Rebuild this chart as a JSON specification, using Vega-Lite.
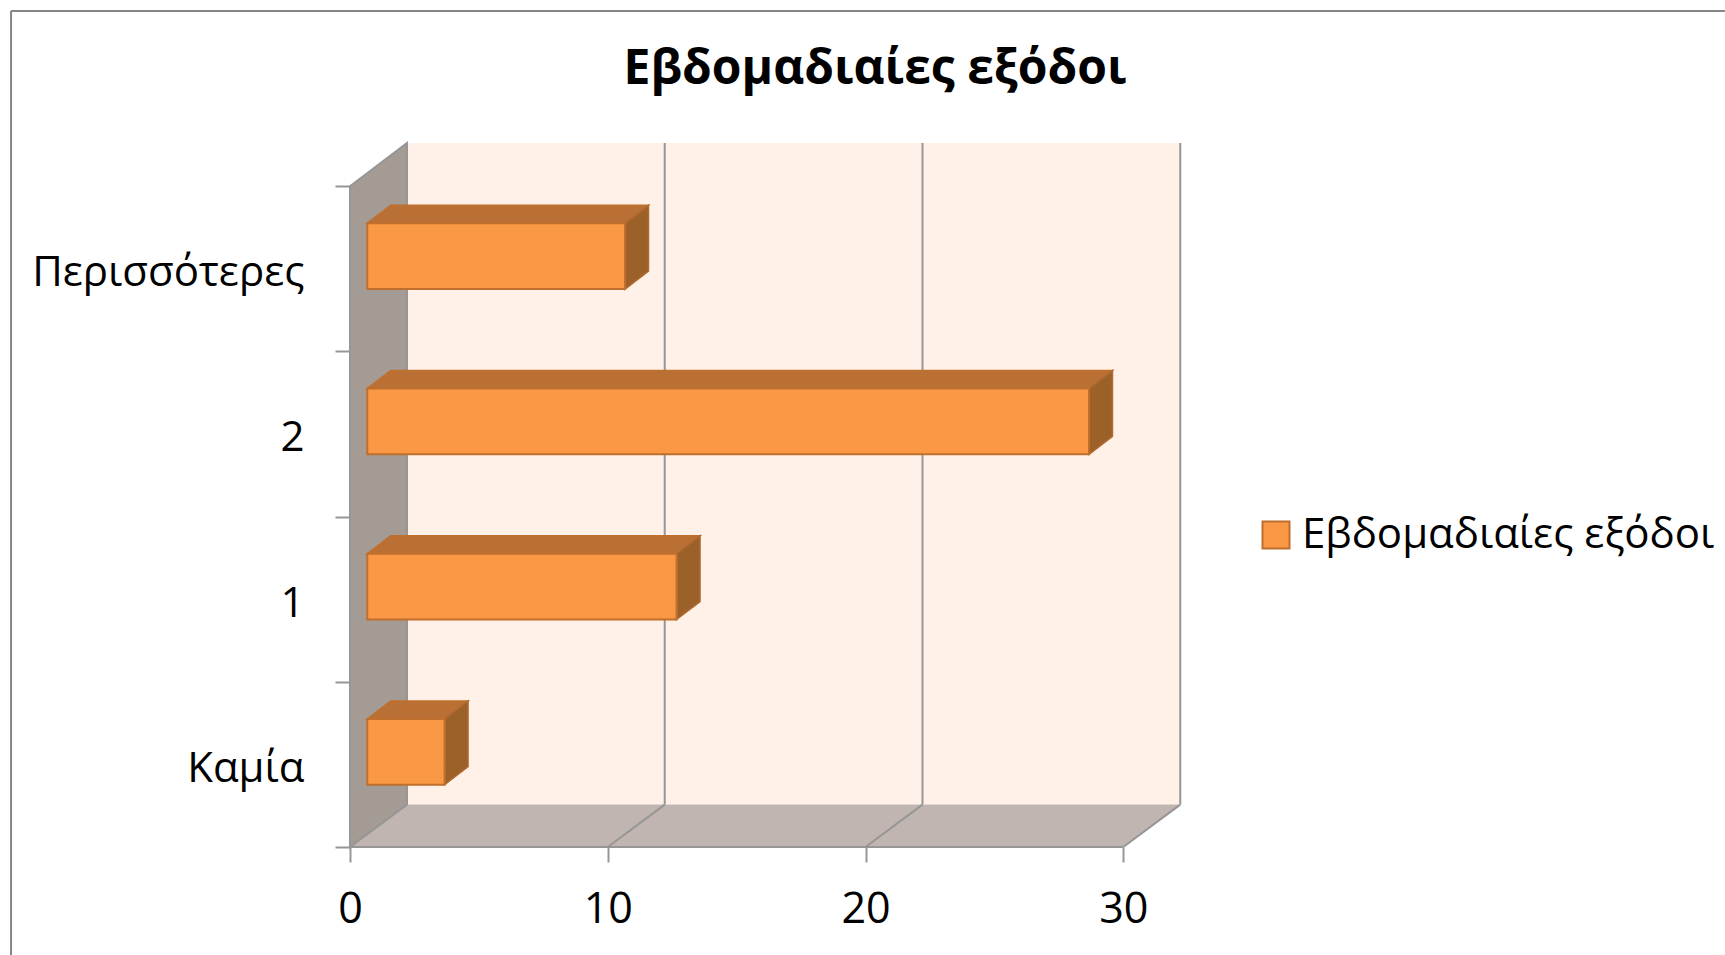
{
"$schema":"https://vega.github.io/schema/vega-lite/v6.json",
"width":830,"height":704,
"autosize":{"type":"none"},
"padding":{"left":350,"top":143,"right":545,"bottom":108},
"background":"#ffffff",
"title":{"text":"Εβδομαδιαίες εξόδοι","font":"Open Sans","fontSize":48,"fontWeight":"bold","color":"#000000","anchor":"middle","dx":110,"offset":-84},
"config":{"view":{"stroke":null},"font":"Open Sans"},
"data":{"values":[
{"category":"Καμία","value":3,"series":"Εβδομαδιαίες εξόδοι"},
{"category":"1","value":12,"series":"Εβδομαδιαίες εξόδοι"},
{"category":"2","value":28,"series":"Εβδομαδιαίες εξόδοι"},
{"category":"Περισσότερες","value":10,"series":"Εβδομαδιαίες εξόδοι"}
]},
"layer":[
{"data":{"values":[{"a":2.21,"a2":32.21,"b":0.2566,"b2":4.2615}]},"mark":{"type":"rect","color":"#FFF0E8"},
 "encoding":{"x":{"field":"a","type":"quantitative","scale":{"domain":[0,32.2],"nice":false,"zero":false},
  "axis":{"values":[0,10,20,30],"title":null,"domain":false,"grid":false,"tickColor":"#969696","tickWidth":2,"tickSize":15,"labelFont":"Open Sans","labelFontSize":43,"labelColor":"#000000","labelPadding":26,"labelFlush":false,"labelOverlap":false}},"x2":{"field":"a2"},
 "y":{"field":"b","type":"quantitative","scale":{"domain":[0,4.2615],"nice":false,"zero":false},
  "axis":{"values":[0,0.5,1,1.5,2,2.5,3,3.5,4],"title":null,"domain":false,"grid":false,"tickColor":"#969696","tickWidth":2,"tickSize":15,"tickOpacity":{"expr":"datum.value%1==0?1:0"},"labelFont":"Open Sans","labelFontSize":42,"labelColor":"#000000","labelPadding":31,"labelLimit":400,"labelFlush":false,"labelOverlap":false,"labelOffset":4,
  "labelExpr":"datum.value==0.5?'Καμία':datum.value==1.5?'1':datum.value==2.5?'2':datum.value==3.5?'Περισσότερες':''"}},"y2":{"field":"b2"}}},
{"data":{"values":[{"x":0,"y":0,"y2":4},{"x":2.21,"y":0.2566,"y2":4.2615}]},
 "mark":{"type":"area","color":"#A39B94","stroke":"#969696","strokeWidth":2},
 "encoding":{"x":{"field":"x","type":"quantitative","scale":{"domain":[0,32.2],"nice":false,"zero":false},"axis":{"title":null}},
 "y":{"field":"y","type":"quantitative","scale":{"domain":[0,4.2615],"nice":false,"zero":false},"axis":{"title":null}},"y2":{"field":"y2"}}},
{"data":{"values":[{"x":0,"y":0,"y2":0},{"x":2.21,"y":0,"y2":0.2566},{"x":30,"y":0,"y2":0.2566},{"x":32.21,"y":0.2566,"y2":0.2566}]},
 "mark":{"type":"area","color":"#C0B5B0"},
 "encoding":{"x":{"field":"x","type":"quantitative","scale":{"domain":[0,32.2],"nice":false,"zero":false},"axis":{"title":null}},
 "y":{"field":"y","type":"quantitative","scale":{"domain":[0,4.2615],"nice":false,"zero":false},"axis":{"title":null}},"y2":{"field":"y2"}}},
{"data":{"values":[{"tick":0},{"tick":10},{"tick":20},{"tick":30}]},
 "transform":[{"calculate":"datum.tick+2.21","as":"back"},{"calculate":"0.2566","as":"b"},{"calculate":"4.2615","as":"b2"}],
 "mark":{"type":"rule","color":"#969696","strokeWidth":2},
 "encoding":{"x":{"field":"back","type":"quantitative","scale":{"domain":[0,32.2],"nice":false,"zero":false},"axis":{"title":null}},
 "y":{"field":"b","type":"quantitative","scale":{"domain":[0,4.2615],"nice":false,"zero":false},"axis":{"title":null}},"y2":{"field":"b2"}}},
{"data":{"values":[{"tick":0},{"tick":10},{"tick":20},{"tick":30}]},
 "transform":[{"calculate":"datum.tick+2.21","as":"back"},{"calculate":"0","as":"b"},{"calculate":"0.2566","as":"b2"}],
 "mark":{"type":"rule","color":"#969696","strokeWidth":2},
 "encoding":{"x":{"field":"tick","type":"quantitative","scale":{"domain":[0,32.2],"nice":false,"zero":false},"axis":{"title":null}},"x2":{"field":"back"},
 "y":{"field":"b","type":"quantitative","scale":{"domain":[0,4.2615],"nice":false,"zero":false},"axis":{"title":null}},"y2":{"field":"b2"}}},
{"data":{"values":[{"a":0,"a2":30,"b":0}]},"mark":{"type":"rule","color":"#969696","strokeWidth":2},
 "encoding":{"x":{"field":"a","type":"quantitative","scale":{"domain":[0,32.2],"nice":false,"zero":false},"axis":{"title":null}},
  "x2":{"field":"a2"},
  "y":{"field":"b","type":"quantitative","scale":{"domain":[0,4.2615],"nice":false,"zero":false},"axis":{"title":null}}}},
{"transform":[
 {"calculate":"indexof(['Καμία','1','2','Περισσότερες'],datum.category)+0.775","as":"t"},
 {"calculate":"[0.67,1.58,0.67+datum.value,1.58+datum.value]","as":"px"},
 {"calculate":"[datum.t,datum.t,datum.t,datum.t+0.109]","as":"lo"},
 {"calculate":"[datum.t,datum.t+0.109,datum.t+0.109,datum.t+0.109]","as":"hi"},
 {"flatten":["px","lo","hi"]}],
 "mark":{"type":"area","color":"#BA7035","stroke":"#C06F2C","strokeWidth":1.5},
 "encoding":{"detail":{"field":"category","type":"nominal"},"x":{"field":"px","type":"quantitative","scale":{"domain":[0,32.2],"nice":false,"zero":false},"axis":{"title":null}},
 "y":{"field":"lo","type":"quantitative","scale":{"domain":[0,4.2615],"nice":false,"zero":false},"axis":{"title":null}},"y2":{"field":"hi"}}},
{"transform":[
 {"calculate":"indexof(['Καμία','1','2','Περισσότερες'],datum.category)","as":"i"},
 {"calculate":"[0.67+datum.value,1.58+datum.value]","as":"px"},
 {"calculate":"[datum.i+0.377,datum.i+0.486]","as":"lo"},
 {"calculate":"[datum.i+0.775,datum.i+0.884]","as":"hi"},
 {"flatten":["px","lo","hi"]}],
 "mark":{"type":"area","color":"#9C6129","stroke":"#B06A30","strokeWidth":1.5},
 "encoding":{"detail":{"field":"category","type":"nominal"},"x":{"field":"px","type":"quantitative","scale":{"domain":[0,32.2],"nice":false,"zero":false},"axis":{"title":null}},
 "y":{"field":"lo","type":"quantitative","scale":{"domain":[0,4.2615],"nice":false,"zero":false},"axis":{"title":null}},"y2":{"field":"hi"}}},
{"transform":[
 {"calculate":"indexof(['Καμία','1','2','Περισσότερες'],datum.category)","as":"i"},
 {"calculate":"datum.i+0.377","as":"b"},
 {"calculate":"datum.i+0.775","as":"t"},
 {"calculate":"0.67","as":"s"},
 {"calculate":"0.67+datum.value","as":"e"}],
 "mark":{"type":"rect","stroke":"#C06F2C","strokeWidth":2},
 "encoding":{"x":{"field":"s","type":"quantitative","scale":{"domain":[0,32.2],"nice":false,"zero":false},"axis":{"title":null}},"x2":{"field":"e"},
 "y":{"field":"b","type":"quantitative","scale":{"domain":[0,4.2615],"nice":false,"zero":false},"axis":{"title":null}},"y2":{"field":"t"},
 "color":{"field":"series","type":"nominal","scale":{"range":["#FA9846"]},
  "legend":{"title":null,"orient":"none","legendX":905,"legendY":371,"symbolType":"square","symbolSize":729,"symbolStrokeColor":"#C06F2C","symbolStrokeWidth":2,"labelFont":"Open Sans","labelFontSize":42,"labelColor":"#000000","labelLimit":600,"labelOffset":5}}}},
{"data":{"values":[{"a":-13.15,"a2":53.34,"b":5.06}]},"mark":{"type":"rule","color":"#868686","strokeWidth":2},
 "encoding":{"x":{"field":"a","type":"quantitative","scale":{"domain":[0,32.2],"nice":false,"zero":false},"axis":{"title":null}},"x2":{"field":"a2"},
 "y":{"field":"b","type":"quantitative","scale":{"domain":[0,4.2615],"nice":false,"zero":false},"axis":{"title":null}}}},
{"data":{"values":[{"a":-13.15,"b":5.06,"b2":-0.654}]},"mark":{"type":"rule","color":"#868686","strokeWidth":2},
 "encoding":{"x":{"field":"a","type":"quantitative","scale":{"domain":[0,32.2],"nice":false,"zero":false},"axis":{"title":null}},
 "y":{"field":"b","type":"quantitative","scale":{"domain":[0,4.2615],"nice":false,"zero":false},"axis":{"title":null}},"y2":{"field":"b2"}}}
]
}
